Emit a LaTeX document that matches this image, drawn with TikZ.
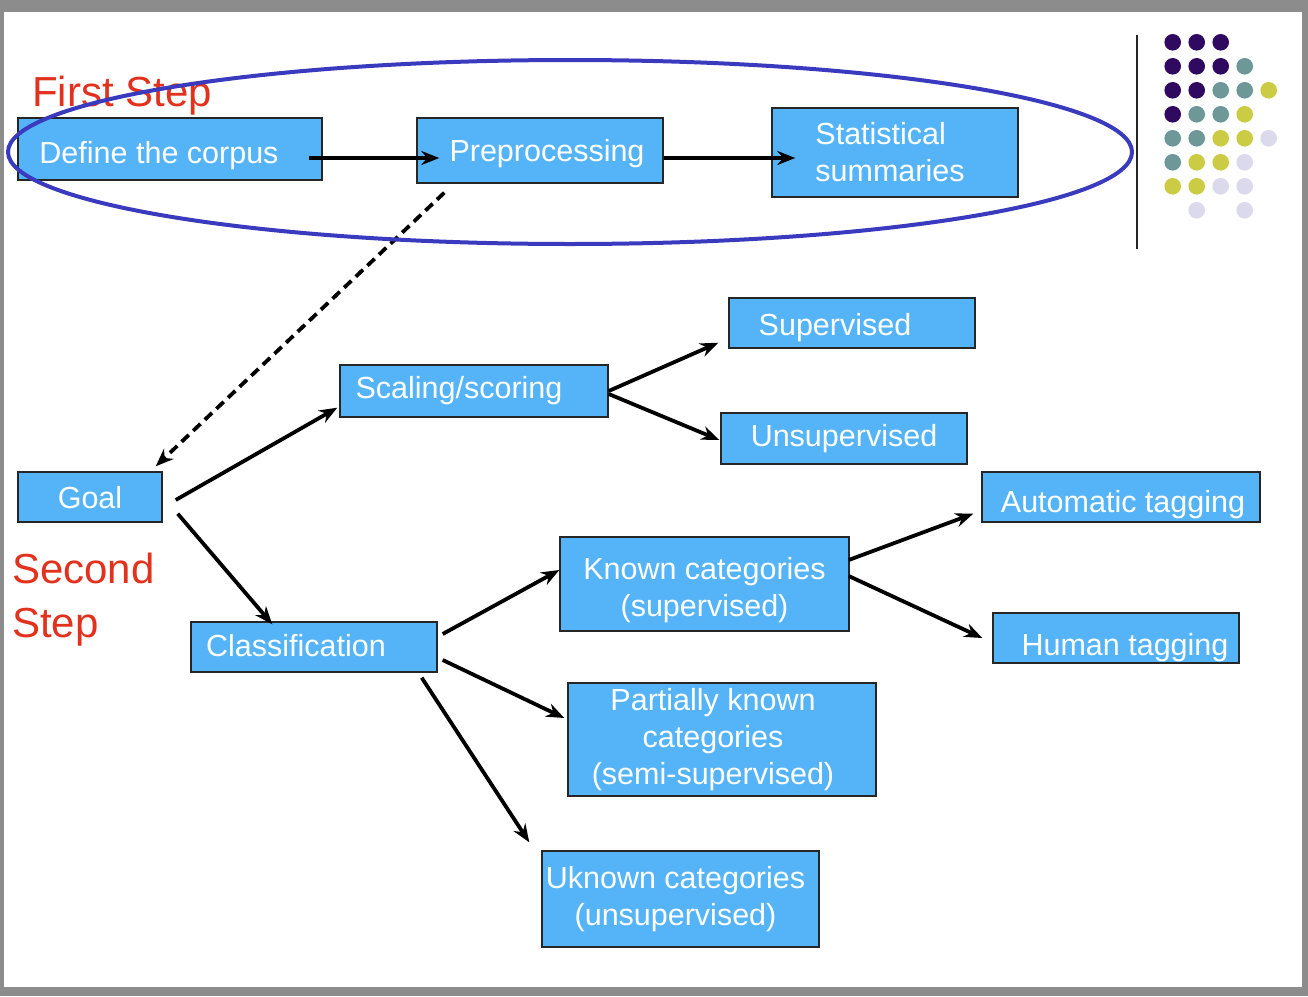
\documentclass[tikz,border=0pt]{standalone}
\usepackage{fontspec}
\setmainfont{Liberation Sans}
\usetikzlibrary{arrows.meta}
\definecolor{boxblue}{HTML}{55B4F8}
\definecolor{ringblue}{HTML}{3A3ABF}
\definecolor{steptext}{HTML}{E2321E}
\definecolor{dotpurple}{HTML}{300A60}
\definecolor{dotteal}{HTML}{6E9898}
\definecolor{dotyellow}{HTML}{CCCC44}
\definecolor{dotlilac}{HTML}{DADAEC}
\newcommand{\boxfont}{\fontsize{30.5}{37}\selectfont}
\newcommand{\stepfont}{\fontsize{42}{54}\selectfont}

\begin{document}
\begin{tikzpicture}[
    x=1pt, y=-1pt,
    bluebox/.style={rectangle, draw=black!85, fill=boxblue, line width=1.4pt,
        text=white, inner sep=0pt, font=\boxfont},
    onebox/.style={bluebox, text height=#1, text depth=0pt},
    manybox/.style={bluebox, align=center},
    steplabel/.style={text=steptext, inner sep=0pt, font=\stepfont, align=left},
    arrow/.style={-{Stealth[length=18pt,width=14pt]}, line width=3.8pt, black}
    ]
        \useasboundingbox (0,0) rectangle (1308,996);
        \fill[black!45] (0,0) rectangle (1308,996);
        \fill[white] (4,12) rectangle (1302,987);

        %Nodes
        \node[onebox=28pt, minimum width=304, minimum height=62]
            (corpus)    at (170,149)    {\hspace*{-22pt}Define the corpus};
        \node[onebox=22pt, minimum width=246, minimum height=65]
            (prep)      at (540,150.5)  {\hspace*{14pt}Preprocessing};
        \node[manybox, minimum width=246, minimum height=89, align=left]
            (stats)     at (895,152.5)  {\hspace*{-10pt}Statistical\\\hspace*{-10pt}summaries};
        \node[onebox=22pt, minimum width=144, minimum height=50]
            (goal)      at (90,497)     {Goal};
        \node[onebox=15pt, minimum width=268, minimum height=52]
            (scaling)   at (474,391)    {\hspace*{-30pt}Scaling/scoring};
        \node[onebox=24pt, minimum width=246, minimum height=50]
            (superv)    at (852,323)    {\hspace*{-34pt}Supervised};
        \node[onebox=16pt, minimum width=246, minimum height=51]
            (unsuperv)  at (844,438.5)  {Unsupervised};
        \node[onebox=18pt, minimum width=246, minimum height=50]
            (classif)   at (314,647)    {\hspace*{-36pt}Classification};
        \node[manybox, minimum width=289, minimum height=94]
            (known)     at (704.5,584)  {\rule{0pt}{34pt}Known categories\\(supervised)};
        \node[manybox, minimum width=308, minimum height=113]
            (partial)   at (722,739.5)  {\hspace*{-18pt}Partially known\\\hspace*{-18pt}categories\\\hspace*{-18pt}(semi-supervised)};
        \node[manybox, minimum width=277, minimum height=96]
            (unknown)   at (680.5,899)  {\hspace*{-10pt}Uknown categories\\\hspace*{-10pt}(unsupervised)};
        \node[onebox=30pt, minimum width=278, minimum height=50]
            (autotag)   at (1121,497)   {\hspace*{4pt}Automatic tagging};
        \node[onebox=34pt, minimum width=246, minimum height=50]
            (humantag)  at (1116,638)   {\hspace*{18pt}Human tagging};

        \node[steplabel, anchor=base west]
            (first)     at (32,106)     {First Step};
        \node[steplabel, anchor=west]
            (second)    at (12,600)     {Second\\Step};

        %Lines
        \draw[arrow] ([shift={(-14,9)}]corpus.east) -- ([shift={(23,7.5)}]prep.west);
        \draw[arrow] ([shift={(0,7.5)}]prep.east) -- ([shift={(24,5.5)}]stats.west);
        \draw[arrow, dash pattern=on 10pt off 6pt]
            ([shift={(28,9)}]prep.south west) -- ([shift={(-7,-5)}]goal.north east);
        \draw[arrow] ([shift={(13,3)}]goal.east) -- ([shift={(-2,-10)}]scaling.south west);
        \draw[arrow] ([shift={(15,-9)}]goal.south east) -- ([shift={(82,3)}]classif.north west);
        \draw[arrow] (scaling.east) -- ([shift={(-10,-6)}]superv.south west);
        \draw[arrow] ([shift={(0,3)}]scaling.east) -- ([shift={(-1,1.5)}]unsuperv.west);
        \draw[arrow] ([shift={(5,-13)}]classif.east) -- ([shift={(0,-14)}]known.west);
        \draw[arrow] ([shift={(5,13)}]classif.east) -- ([shift={(-3,-21.5)}]partial.west);
        \draw[arrow] ([shift={(-16,5)}]classif.south east) -- ([shift={(-12,-8)}]unknown.north west);
        \draw[arrow] ([shift={(-1,-24)}]known.east) -- ([shift={(-8,-9)}]autotag.south west);
        \draw[arrow] ([shift={(-1,-8)}]known.east) -- ([shift={(-10,0)}]humantag.west);

        %Ring round the first step
        \draw[ringblue, line width=4pt] (570,152) ellipse [x radius=562, y radius=92];

        %Corner decoration
        \draw[black!85, line width=1.5pt] (1137,35) -- (1137,249);
        \foreach \c/\r/\col in {0/0/dotpurple, 1/0/dotpurple, 2/0/dotpurple,
                0/1/dotpurple, 1/1/dotpurple, 2/1/dotpurple, 3/1/dotteal,
                0/2/dotpurple, 1/2/dotpurple, 2/2/dotteal, 3/2/dotteal, 4/2/dotyellow,
                0/3/dotpurple, 1/3/dotteal, 2/3/dotteal, 3/3/dotyellow,
                0/4/dotteal, 1/4/dotteal, 2/4/dotyellow, 3/4/dotyellow, 4/4/dotlilac,
                0/5/dotteal, 1/5/dotyellow, 2/5/dotyellow, 3/5/dotlilac,
                0/6/dotyellow, 1/6/dotyellow, 2/6/dotlilac, 3/6/dotlilac,
                1/7/dotlilac, 3/7/dotlilac}
            \fill[\col] ({1172.7+24*\c},{42.3+24*\r}) circle (8.3);
    \end{tikzpicture}
\end{document}
